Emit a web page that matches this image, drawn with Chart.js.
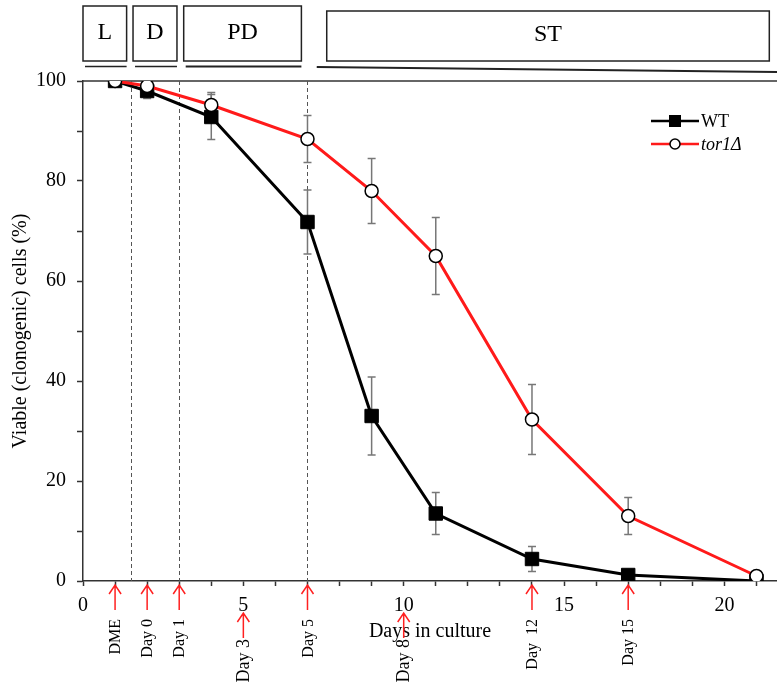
<!DOCTYPE html>
<html>
<head>
<meta charset="utf-8">
<script src="https://cdn.jsdelivr.net/npm/chart.js@4.4.1/dist/chart.umd.min.js"></script>
<style>
  body { margin: 0; background: #fff; }
  #wrap { width: 777px; height: 689px; position: relative; }
</style>
</head>
<body>
<div id="wrap"><canvas id="viabilityChart"></canvas></div>
<script>
// Dados (dias em cultura x % de células viáveis)
const days = [1, 2, 4, 7, 9, 11, 14, 17, 21];
const wtViable = [100, 98, 92.8, 71.8, 33, 13.5, 4.4, 1.2, 0];
const wtError = [0, 1.5, 4.5, 6.4, 7.8, 4.2, 2.5, 0.6, 0];
const tor1Viable = [100, 99, 95.2, 88.4, 78, 65, 32.3, 13, 1];
const tor1Error = [0, 0.6, 2.5, 4.7, 6.5, 7.7, 7, 3.7, 0];

// Fases da cultura (caixas no topo)
const phaseLabels = ['L', 'D', 'PD', 'ST'];
const phaseStart = [0, 1.56, 3.14, 7.6];
const phaseEnd = [1.36, 2.93, 6.81, 21.4];
const phaseDividers = [1.5, 3, 7];

// Setas vermelhas abaixo do eixo
const arrowDays = [1, 2, 3, 5, 7, 10, 14, 17];
const arrowLabels = ['DME', 'Day 0', 'Day 1', 'Day 3', 'Day 5', 'Day 8', 'Day  12', 'Day 15'];
const arrowRow = [0, 0, 0, 1, 0, 1, 0, 0];

const serif = '"Liberation Serif", "Times New Roman", serif';
Chart.defaults.font.family = serif;
Chart.defaults.color = '#000';

const errors = [wtError, tor1Error];

const extrasPlugin = {
    id: 'extras',
    beforeDatasetsDraw(chart) {
        const { ctx, chartArea } = chart;
        const x = chart.scales.x;
        const y = chart.scales.y;
        ctx.save();

        // linha superior
        ctx.strokeStyle = '#333';
        ctx.lineWidth = 1.5;
        ctx.beginPath();
        ctx.moveTo(chartArea.left, chartArea.top);
        ctx.lineTo(chart.width, chartArea.top);
        ctx.stroke();

        // divisórias tracejadas
        ctx.strokeStyle = '#555';
        ctx.lineWidth = 1;
        ctx.setLineDash([4, 3]);
        phaseDividers.forEach(d => {
            const px = Math.round(x.getPixelForValue(d)) + 0.5;
            ctx.beginPath();
            ctx.moveTo(px, chartArea.top);
            ctx.lineTo(px, chartArea.bottom);
            ctx.stroke();
        });
        ctx.setLineDash([]);

        // barras de erro
        ctx.strokeStyle = '#777';
        ctx.lineWidth = 1.5;
        chart.data.datasets.forEach((ds, k) => {
            ds.data.forEach((p, i) => {
                const e = errors[k][i];
                if (!e) return;
                const px = x.getPixelForValue(p.x);
                const top = y.getPixelForValue(p.y + e);
                const bot = y.getPixelForValue(p.y - e);
                ctx.beginPath();
                ctx.moveTo(px, top);
                ctx.lineTo(px, bot);
                ctx.moveTo(px - 4, top);
                ctx.lineTo(px + 4, top);
                ctx.moveTo(px - 4, bot);
                ctx.lineTo(px + 4, bot);
                ctx.stroke();
            });
        });
        ctx.restore();
    },
    afterDraw(chart) {
        const { ctx } = chart;
        const x = chart.scales.x;
        ctx.save();

        // caixas das fases
        ctx.strokeStyle = '#222';
        ctx.fillStyle = '#000';
        ctx.font = '24px ' + serif;
        ctx.textAlign = 'center';
        ctx.textBaseline = 'middle';
        phaseLabels.forEach((lab, i) => {
            const x0 = x.getPixelForValue(phaseStart[i]);
            const x1 = x.getPixelForValue(phaseEnd[i]);
            const top = i === 3 ? 11 : 6;
            ctx.lineWidth = 1.5;
            ctx.strokeRect(x0, top, x1 - x0, 61 - top);
            ctx.fillText(lab, (x0 + x1) / 2, (top + 61) / 2 - 1);

            // sublinhado
            ctx.lineWidth = i >= 2 ? 2 : 1.5;
            ctx.beginPath();
            if (i === 3) {
                ctx.moveTo(x0 - 10, 67);
                ctx.lineTo(chart.width, 72);
            } else {
                ctx.moveTo(x0 + 2, 66.5);
                ctx.lineTo(x1, 66.5);
            }
            ctx.stroke();
        });

        // setas e rótulos
        ctx.strokeStyle = '#ff2020';
        ctx.lineWidth = 1.5;
        arrowDays.forEach((d, i) => {
            const px = x.getPixelForValue(d);
            const low = arrowRow[i] === 1;
            const tip = low ? 613 : 585;
            const tail = tip + 25;
            ctx.beginPath();
            ctx.moveTo(px, tail);
            ctx.lineTo(px, tip);
            ctx.moveTo(px - 6, tip + 9);
            ctx.lineTo(px, tip);
            ctx.lineTo(px + 6, tip + 9);
            ctx.stroke();

            ctx.save();
            ctx.font = (low ? '18px ' : '16px ') + serif;
            ctx.translate(px + 1, low ? tail + 1 : tail + 9);
            ctx.rotate(-Math.PI / 2);
            ctx.textAlign = 'right';
            ctx.textBaseline = 'middle';
            ctx.fillText(arrowLabels[i], 0, 0);
            ctx.restore();
        });

        // legenda
        const ds = chart.data.datasets;
        const rows = [121, 144];
        ds.forEach((set, i) => {
            const ly = rows[i];
            ctx.strokeStyle = set.borderColor;
            ctx.lineWidth = 2.5;
            ctx.beginPath();
            ctx.moveTo(651, ly);
            ctx.lineTo(699, ly);
            ctx.stroke();
            if (i === 0) {
                ctx.fillStyle = '#000';
                ctx.fillRect(669, ly - 6, 12, 12);
            } else {
                ctx.fillStyle = '#fff';
                ctx.strokeStyle = '#000';
                ctx.lineWidth = 1.5;
                ctx.beginPath();
                ctx.arc(675, ly, 5, 0, Math.PI * 2);
                ctx.fill();
                ctx.stroke();
            }
            ctx.fillStyle = '#000';
            ctx.font = (i === 1 ? 'italic ' : '') + '18px ' + serif;
            ctx.textAlign = 'left';
            ctx.textBaseline = 'middle';
            ctx.fillText(set.label, 701, ly + 1);
        });
        ctx.restore();
    }
};

const toPoints = vals => days.map((d, i) => ({ x: d, y: vals[i] }));

new Chart(document.getElementById('viabilityChart'), {
    type: 'line',
    data: {
        datasets: [{
            label: 'WT',
            data: toPoints(wtViable),
            borderColor: '#000',
            borderWidth: 3,
            pointStyle: 'rect',
            pointRadius: 9.5,
            pointBackgroundColor: '#000',
            pointBorderColor: '#000',
            pointBorderWidth: 1,
            tension: 0,
            order: 2
        }, {
            label: 'tor1Δ',
            data: toPoints(tor1Viable),
            borderColor: '#ff1a1a',
            borderWidth: 3,
            pointStyle: 'circle',
            pointRadius: 6.5,
            pointBackgroundColor: '#fff',
            pointBorderColor: '#000',
            pointBorderWidth: 1.5,
            tension: 0,
            order: 1
        }]
    },
    options: {
        responsive: true,
        maintainAspectRatio: false,
        animation: false,
        events: [],
        layout: { autoPadding: false, padding: { top: 81, left: 0, right: 0, bottom: 0 } },
        plugins: {
            legend: { display: false },
            tooltip: { enabled: false }
        },
        scales: {
            x: {
                type: 'linear',
                min: 0,
                max: 21.64,
                border: { color: '#333', width: 1.5 },
                grid: { drawOnChartArea: false, tickLength: 5, color: '#333', tickWidth: 1.5 },
                ticks: {
                    stepSize: 1,
                    autoSkip: false,
                    includeBounds: false,
                    maxRotation: 0,
                    padding: 8,
                    font: { size: 20 },
                    callback: v => (v % 5 === 0 ? v : '')
                },
                title: {
                    display: true,
                    text: 'Days in culture',
                    font: { size: 20 },
                    padding: { top: 0, bottom: 45 }
                },
                afterFit: s => {
                    s.height = 108;
                    s.paddingLeft = 0;
                    s.paddingRight = 0;
                }
            },
            y: {
                min: 0,
                max: 100,
                border: { color: '#333', width: 1.5 },
                grid: { drawOnChartArea: false, tickLength: 6, color: '#333', tickWidth: 1.5 },
                ticks: {
                    stepSize: 10,
                    padding: 11,
                    font: { size: 20 },
                    callback: v => (v % 20 === 0 ? v : '')
                },
                title: {
                    display: true,
                    text: 'Viable (clonogenic) cells (%)',
                    font: { size: 20 },
                    padding: { top: 9, bottom: 0 }
                },
                afterFit: s => {
                    s.width = 83;
                    s.paddingTop = 0;
                    s.paddingBottom = 0;
                }
            }
        }
    },
    plugins: [extrasPlugin]
});
</script>
</body>
</html>
